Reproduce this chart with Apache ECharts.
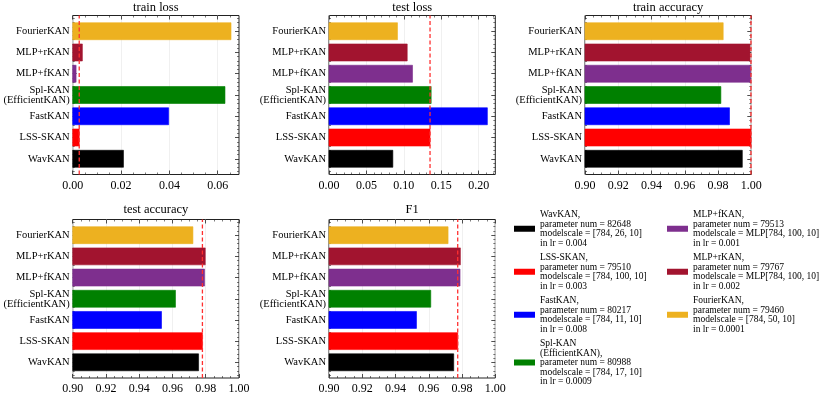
<!DOCTYPE html>
<html><head><meta charset="utf-8">
<script src="https://cdn.jsdelivr.net/npm/echarts@6/dist/echarts.min.js"></script>
<style>html,body{margin:0;padding:0;background:#fff}#c{width:830px;height:395px}</style>
</head><body><div id="c"></div>
<script>
// ---- data (index 0 = bottom bar) ----
const modelKeys = ['WavKAN','LSS-SKAN','FastKAN','Spl-KAN (EfficientKAN)','MLP+fKAN','MLP+rKAN','FourierKAN'];
const axisLabels = ['WavKAN','LSS-SKAN','FastKAN','Spl-KAN\n(EfficientKAN)','MLP+fKAN','MLP+rKAN','FourierKAN'];
const legendNames = ['WavKAN,','LSS-SKAN,','FastKAN,','Spl-KAN\n(EfficientKAN),','MLP+fKAN,','MLP+rKAN,','FourierKAN,'];
const paramNums = [82648, 79510, 80217, 80988, 79513, 79767, 79460];
const modelScales = ['[784, 26, 10]','[784, 100, 10]','[784, 11, 10]','[784, 17, 10]','MLP[784, 100, 10]','MLP[784, 100, 10]','[784, 50, 10]'];
const learningRates = ['0.004','0.003','0.008','0.0009','0.001','0.002','0.0001'];
const colors = ['#000000','#ff0000','#0000ff','#008000','#7e2f8e','#a2142f','#edb120'];

const trainLoss = [0.0210, 0.0027, 0.0397, 0.0630, 0.0014, 0.0040, 0.0655];
const testLoss  = [0.0853, 0.1350, 0.2116, 0.1365, 0.1116, 0.1045, 0.0915];
const trainAcc  = [0.9946, 0.9998, 0.9869, 0.9817, 0.9996, 0.9992, 0.9831];
const testAcc   = [0.9757, 0.9780, 0.9534, 0.9618, 0.9793, 0.9797, 0.9723];
const f1Score   = [0.9750, 0.9774, 0.9526, 0.9612, 0.9788, 0.9790, 0.9716];

const titles = ['train loss','test loss','train accuracy','test accuracy','F1'];
const lossTicks1 = [0, 0.02, 0.04, 0.06];
const lossTicks2 = [0, 0.05, 0.10, 0.15, 0.20];
const accTicks = [0.90, 0.92, 0.94, 0.96, 0.98, 1.00];
const refIndex = 1; // LSS-SKAN reference line

// ---- layout ----
const FONT = "'Liberation Serif','DejaVu Serif',serif";
const panels = [
  {vals: trainLoss, ticks: lossTicks1, min: 0, max: 0.0688, interval: 0.02, minorDiv: 4, left: 72.7, top: 15.5, width: 166.3, height: 159, titleTop: 1.5},
  {vals: testLoss,  ticks: lossTicks2, min: 0, max: 0.2222, interval: 0.05, minorDiv: 5, left: 329, top: 15.5, width: 166.3, height: 159, titleTop: 1.5},
  {vals: trainAcc,  ticks: accTicks, min: 0.9, max: 1.0, interval: 0.02, minorDiv: 4, left: 585, top: 15.5, width: 166.3, height: 159, titleTop: 1.5},
  {vals: testAcc,   ticks: accTicks, min: 0.9, max: 1.0, interval: 0.02, minorDiv: 4, left: 72.7, top: 219.5, width: 166.3, height: 159.5, titleTop: 203},
  {vals: f1Score,   ticks: accTicks, min: 0.9, max: 1.0, interval: 0.02, minorDiv: 4, left: 329, top: 219.5, width: 166.3, height: 159.5, titleTop: 203}
];
const YMIN = -0.74, YMAX = 6.74;
const catPos = axisLabels.map((_, i) => i);
const yMinor = [];
for (let k = -3; k <= 33; k++) { if (k % 5 !== 0) yMinor.push(k / 5); }

const grids = [], xAxes = [], yAxes = [], series = [], titleArr = [];
const tickColor = '#222';

panels.forEach((p, pi) => {
  grids.push({left: p.left, top: p.top, width: p.width, height: p.height, show: true,
    borderColor: '#222', borderWidth: 1, backgroundColor: 'transparent', containLabel: false});
  titleArr.push({text: titles[pi], left: p.left + p.width / 2, top: p.titleTop, textAlign: 'center', padding: 0,
    textStyle: {fontFamily: FONT, fontSize: 12.5, fontWeight: 'normal', color: '#000'}});
  const step = p.interval / p.minorDiv;
  const xMinor = [];
  for (let v = p.min + step; v < p.max - 1e-9; v += step) {
    const r = Math.round((v - p.min) / step);
    if (r % p.minorDiv !== 0) xMinor.push(p.min + r * step);
  }
  const noLine = {show: false, onZero: false};
  const xBase = {gridIndex: pi, type: 'value', min: p.min, max: p.max, interval: p.interval,
    axisLine: noLine, splitLine: {show: false}};
  xAxes.push(Object.assign({}, xBase, {position: 'bottom',
    axisLabel: {show: true, customValues: p.ticks, formatter: v => v.toFixed(2), fontFamily: FONT, fontSize: 12, color: '#000', margin: 5},
    axisTick: {show: true, inside: true, length: 4, customValues: p.ticks, lineStyle: {color: tickColor, width: 0.8}},
    splitLine: {show: true, lineStyle: {color: '#ececec', width: 0.8}}}));
  xAxes.push(Object.assign({}, xBase, {position: 'top', axisLabel: {show: false},
    axisTick: {show: true, inside: true, length: 4, customValues: p.ticks, lineStyle: {color: tickColor, width: 0.8}}}));
  xAxes.push(Object.assign({}, xBase, {position: 'bottom', offset: 0, axisLabel: {show: false},
    axisTick: {show: true, inside: true, length: 2, customValues: xMinor, lineStyle: {color: tickColor, width: 0.6}}}));
  xAxes.push(Object.assign({}, xBase, {position: 'top', offset: 0, axisLabel: {show: false},
    axisTick: {show: true, inside: true, length: 2, customValues: xMinor, lineStyle: {color: tickColor, width: 0.6}}}));

  const yBase = {gridIndex: pi, type: 'value', min: YMIN, max: YMAX, axisLine: noLine, splitLine: {show: false}};
  yAxes.push(Object.assign({}, yBase, {position: 'left',
    axisLabel: {show: true, customValues: catPos, formatter: v => axisLabels[Math.round(v)] || '', fontFamily: FONT, fontSize: 10.5, lineHeight: 10, color: '#000', margin: 3, align: 'right'},
    axisTick: {show: true, inside: true, length: 4, customValues: catPos, lineStyle: {color: tickColor, width: 0.8}}}));
  yAxes.push(Object.assign({}, yBase, {position: 'right', axisLabel: {show: false},
    axisTick: {show: true, inside: true, length: 4, customValues: catPos, lineStyle: {color: tickColor, width: 0.8}}}));
  yAxes.push(Object.assign({}, yBase, {position: 'left', offset: 0, axisLabel: {show: false},
    axisTick: {show: true, inside: true, length: 2, customValues: yMinor, lineStyle: {color: tickColor, width: 0.6}}}));
  yAxes.push(Object.assign({}, yBase, {position: 'right', offset: 0, axisLabel: {show: false},
    axisTick: {show: true, inside: true, length: 2, customValues: yMinor, lineStyle: {color: tickColor, width: 0.6}}}));

  const xi = pi * 4, yi = pi * 4;
  p.vals.forEach((v, i) => {
    series.push({
      name: modelKeys[i], type: 'custom', xAxisIndex: xi, yAxisIndex: yi,
      data: [[v, i]], z: 2,
      itemStyle: {color: colors[i]},
      renderItem: function (params, api) {
        const val = api.value(0), idx = api.value(1);
        const a = api.coord([0, idx]);
        const b = api.coord([val, idx]);
        const h = api.size([0, 0.8])[1];
        const rect = echarts.graphic.clipRectByRect(
          {x: a[0], y: b[1] - h / 2, width: b[0] - a[0], height: h},
          {x: params.coordSys.x, y: params.coordSys.y, width: params.coordSys.width, height: params.coordSys.height});
        if (!rect) return null;
        return {type: 'rect', shape: rect, style: {fill: colors[idx], stroke: colors[idx], lineWidth: 0.6, opacity: 1}};
      }
    });
  });
  const ref = p.vals[refIndex];
  series.push({type: 'line', xAxisIndex: xi, yAxisIndex: yi, data: [[ref, YMIN], [ref, YMAX]],
    symbol: 'none', silent: true, z: 5, clip: true,
    lineStyle: {color: '#ff2f2f', width: 1.3, type: [4, 2.5]}});
});

function legendText(name) {
  const i = modelKeys.indexOf(name);
  return legendNames[i] + '\nparameter num = ' + paramNums[i] + '\nmodelscale = ' + modelScales[i] + '\nin lr = ' + learningRates[i];
}
const legendCommon = {orient: 'vertical', top: 209.5, height: 185, padding: 0, itemGap: 4.5, itemWidth: 21, itemHeight: 6,
  selectedMode: false, icon: 'rect', formatter: legendText,
  textStyle: {fontFamily: FONT, fontSize: 9.5, lineHeight: 9.5, color: '#000'}};
const legends = [
  Object.assign({}, legendCommon, {left: 514, data: modelKeys.slice(0, 4).map((n, k) => ({name: n, itemStyle: {color: colors[k]}}))}),
  Object.assign({}, legendCommon, {left: 667, data: modelKeys.slice(4).map((n, k) => ({name: n, itemStyle: {color: colors[k + 4]}}))})
];

const chart = echarts.init(document.getElementById('c'), null, {renderer: 'canvas'});
chart.setOption({
  animation: false,
  backgroundColor: '#fff',
  title: titleArr,
  legend: legends,
  grid: grids,
  xAxis: xAxes,
  yAxis: yAxes,
  series: series
});
</script></body></html>
